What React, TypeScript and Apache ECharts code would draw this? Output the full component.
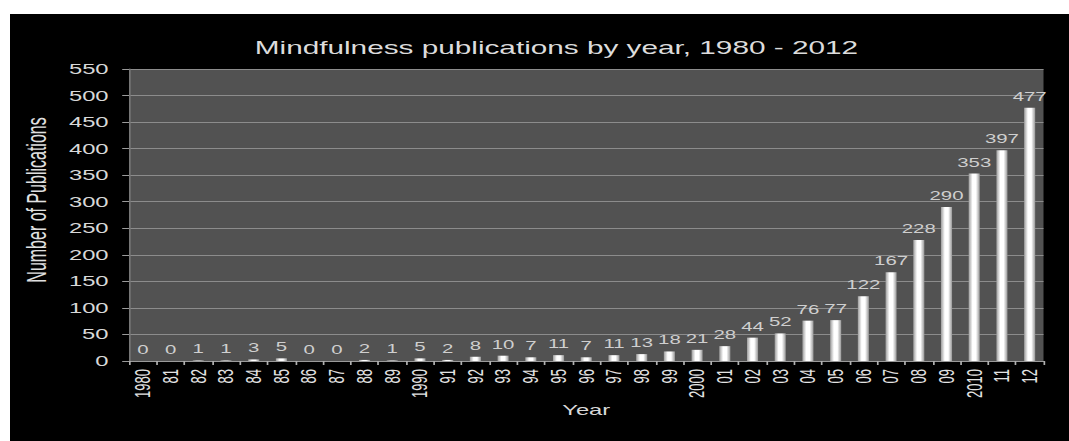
import React, { useEffect, useRef } from "react";
import * as echarts from "echarts";

const years = [
  "1980", "81", "82", "83", "84", "85", "86", "87", "88", "89",
  "1990", "91", "92", "93", "94", "95", "96", "97", "98", "99",
  "2000", "01", "02", "03", "04", "05", "06", "07", "08", "09",
  "2010", "11", "12",
];
const publications = [
  0, 0, 1, 1, 3, 5, 0, 0, 2, 1,
  5, 2, 8, 10, 7, 11, 7, 11, 13, 18,
  21, 28, 44, 52, 76, 77, 122, 167, 228, 290,
  353, 397, 477,
];
const yMin = 0;
const yMax = 550;
const yStep = 50;

const LOCAL_W = 623;
const LOCAL_H = 427;
const SCALE = 1059 / LOCAL_W;

export default function App() {
  const ref = useRef<HTMLDivElement>(null);
  useEffect(() => {
    if (!ref.current) return;
    const chart = echarts.init(ref.current, undefined, { renderer: "svg" });
    chart.setOption({
      animation: false,
      backgroundColor: "#000000",
      textStyle: { fontFamily: '"Liberation Sans", Arial, sans-serif' },
      title: {
        text: "Mindfulness publications by year, 1980 - 2012",
        left: 144,
        top: 25,
        padding: 0,
        textStyle: { color: "#dcdcdc", fontSize: 17.5, fontWeight: "normal" },
      },
      grid: {
        left: 70,
        right: 15,
        top: 55,
        bottom: 80,
        show: true,
        backgroundColor: "#525252",
        borderWidth: 0,
        outerBoundsMode: "none",
      },
      xAxis: {
        type: "category",
        data: years,
        name: "Year",
        nameLocation: "middle",
        nameGap: 42,
        nameMoveOverlap: false,
        nameTextStyle: { color: "#d8d8d8", fontSize: 14 },
        axisLine: { lineStyle: { color: "#9a9a9a" } },
        axisTick: { show: true, length: 4, lineStyle: { color: "#b0b0b0" } },
        axisLabel: { rotate: 90, interval: 0, margin: 8, color: "#e2e2e2", fontSize: 13 },
      },
      yAxis: {
        type: "value",
        min: yMin,
        max: yMax,
        interval: yStep,
        name: "Number of Publications",
        nameLocation: "middle",
        nameRotate: 90,
        nameGap: 46,
        nameMoveOverlap: false,
        nameTextStyle: { color: "#e0e0e0", fontSize: 16, padding: [0, 0, 0, 30] },
        axisLine: { show: true, lineStyle: { color: "#777777" } },
        axisTick: { show: true, length: 4, lineStyle: { color: "#9a9a9a" } },
        axisLabel: { margin: 12, color: "#d8d8d8", fontSize: 14 },
        splitLine: { show: true, lineStyle: { color: "#8c8c8c", width: 1 } },
      },
      series: [
        {
          type: "bar",
          data: publications,
          barWidth: "40%",
          itemStyle: {
            color: new echarts.graphic.LinearGradient(0, 0, 1, 0, [
              { offset: 0, color: "#9c9c9c" },
              { offset: 0.35, color: "#ffffff" },
              { offset: 0.65, color: "#ffffff" },
              { offset: 1, color: "#979797" },
            ]),
          },
          label: {
            show: true,
            position: "top",
            distance: 5,
            color: "#cfcfcf",
            fontSize: 12,
          },
        },
      ],
    });
    return () => chart.dispose();
  }, []);
  return (
    <div
      ref={ref}
      style={{
        position: "absolute",
        left: 10,
        top: 14,
        width: LOCAL_W,
        height: LOCAL_H,
        transform: `scaleX(${SCALE})`,
        transformOrigin: "0 0",
        background: "#000",
      }}
    />
  );
}
